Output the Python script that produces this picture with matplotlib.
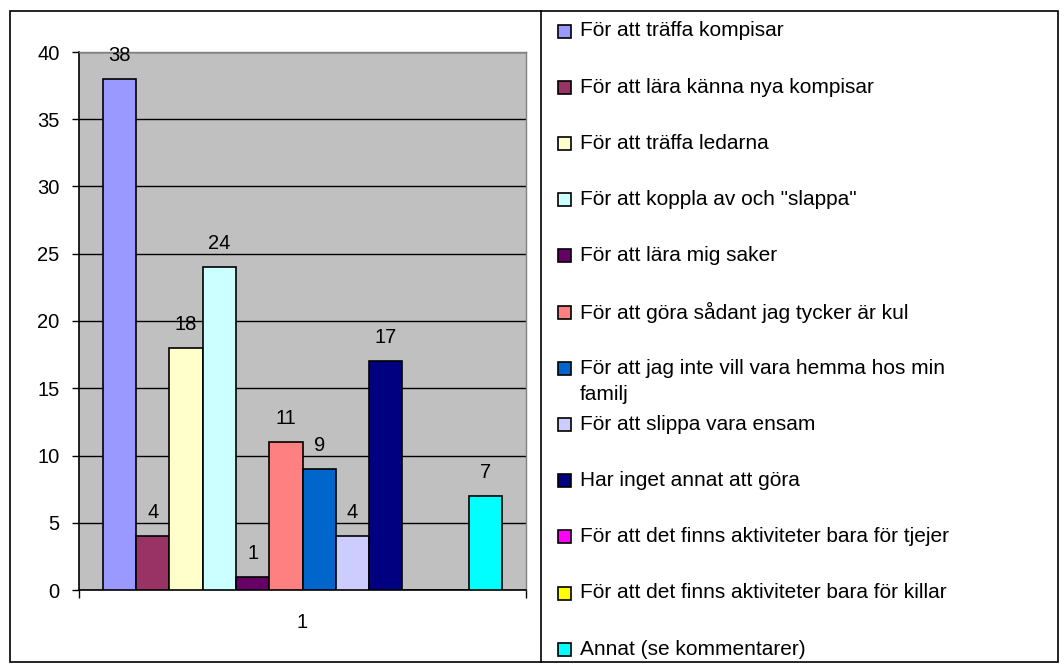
import matplotlib
matplotlib.use("Agg")
import matplotlib.pyplot as plt
from matplotlib.patches import Rectangle

plt.rcParams['font.family'] = ['Liberation Sans', 'DejaVu Sans']

labels = [
    "För att träffa kompisar",
    "För att lära känna nya kompisar",
    "För att träffa ledarna",
    "För att koppla av och \"slappa\"",
    "För att lära mig saker",
    "För att göra sådant jag tycker är kul",
    "För att jag inte vill vara hemma hos min\nfamilj",
    "För att slippa vara ensam",
    "Har inget annat att göra",
    "För att det finns aktiviteter bara för tjejer",
    "För att det finns aktiviteter bara för killar",
    "Annat (se kommentarer)",
]
values = [38, 4, 18, 24, 1, 11, 9, 4, 17, 0, 0, 7]
colors = ["#9999FF", "#993366", "#FFFFCC", "#CCFFFF", "#660066", "#FF8080",
          "#0066CC", "#CCCCFF", "#000080", "#FF00FF", "#FFFF00", "#00FFFF"]
yticks = [0, 5, 10, 15, 20, 25, 30, 35, 40]
category = "1"

W, H = 1064, 664
FS = 14.5
FL = 15
fig = plt.figure(figsize=(W / 100, H / 100), dpi=100)

def px(x0, y0, x1, y1):
    return [x0 / W, 1 - y1 / H, (x1 - x0) / W, (y1 - y0) / H]

# outer frame and legend frame
fig.patches.append(Rectangle((10 / W, 1 - 662 / H), 1048 / W, 651 / H,
                             transform=fig.transFigure, fill=False,
                             edgecolor='black', linewidth=1.2))
fig.lines.append(plt.Line2D([541 / W, 541 / W], [1 - 662 / H, 1 - 11 / H],
                            transform=fig.transFigure, color='black', linewidth=1.2))

ax = fig.add_axes(px(79, 52, 526, 590))
ax.set_facecolor('#C0C0C0')
pos = list(range(len(values)))
ax.bar(pos, values, width=1.0, color=colors, edgecolor='black', linewidth=1.2, zorder=3)
for p, v in zip(pos, values):
    if v > 0:
        ax.text(p, v + 1.34, str(v), ha='center', va='baseline', fontsize=FS, zorder=4)

ax.set_ylim(0, 40)
ax.set_xlim(-0.5 - 0.72, len(values) - 0.5 + 0.72)
ax.set_yticks(yticks)
ax.yaxis.grid(True, color='black', linewidth=1.0, zorder=1)
ax.set_axisbelow(True)
ax.tick_params(axis='y', direction='out', length=5, width=1, labelsize=FS, pad=9)
ax.set_xticks(ax.get_xlim())
ax.set_xticklabels([])
ax.tick_params(axis='x', direction='out', length=6, width=1)
ax.text(0.5, -32 / 538, category, transform=ax.transAxes, ha='center', va='center', fontsize=FS)
for s in ['top', 'right']:
    ax.spines[s].set_color('#808080')
    ax.spines[s].set_linewidth(1.0)
for s in ['left', 'bottom']:
    ax.spines[s].set_color('black')
    ax.spines[s].set_linewidth(1.2)

# legend
lg = fig.add_axes(px(541, 0, 1058, 664))
lg.set_xlim(541, 1058)
lg.set_ylim(664, 0)
lg.axis('off')
for i, (lab, c) in enumerate(zip(labels, colors)):
    yc = 31 + i * 56.2
    lg.add_patch(Rectangle((558, yc - 6.5), 13, 13, facecolor=c, edgecolor='black', linewidth=1.2))
    lines = lab.split("\n")
    lg.text(580, yc, lines[0], ha='left', va='center', fontsize=FL)
    if len(lines) > 1:
        lg.text(580, yc + 26, lines[1], ha='left', va='center', fontsize=FL)

fig.savefig('out.png', dpi=100)
